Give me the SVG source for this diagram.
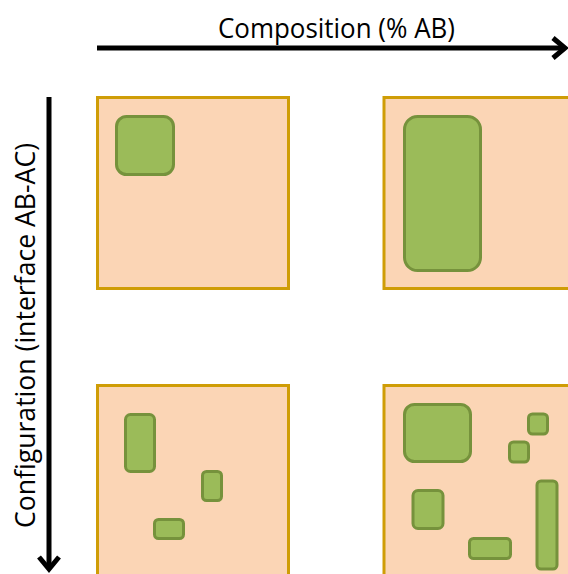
<svg xmlns="http://www.w3.org/2000/svg" width="568" height="574" viewBox="0 0 568 574">
<style>
.panel{fill:#FBD5B5;stroke:#CF9D06;stroke-width:3}
.grain{fill:#9BBB59;stroke:#76923C;stroke-width:3}
.axis{fill:none;stroke:#000;stroke-width:5}
.head{fill:none;stroke:#000;stroke-width:5;stroke-linejoin:miter;stroke-linecap:butt}
.lbl{font-family:"Open Sans","Liberation Sans",sans-serif;font-size:27px;fill:#000}
</style>
<rect width="568" height="574" fill="#fff"/>
<g id="panel-top-left">
<rect class="panel" x="97.5" y="97.5" width="191" height="191"/>
<rect class="grain" x="116.5" y="116.5" width="57" height="58" rx="10"/>
</g>
<g id="panel-top-right">
<rect class="panel" x="384" y="97.5" width="191" height="191"/>
<rect class="grain" x="404.5" y="116.5" width="76" height="154" rx="13"/>
</g>
<g id="panel-bottom-left">
<rect class="panel" x="97.5" y="385.5" width="191" height="191"/>
<rect class="grain" x="125.5" y="414.5" width="29" height="57" rx="5"/>
<rect class="grain" x="202.5" y="471.5" width="19" height="29" rx="4"/>
<rect class="grain" x="154.5" y="519.5" width="29" height="19" rx="4"/>
</g>
<g id="panel-bottom-right">
<rect class="panel" x="384" y="385.5" width="191" height="191"/>
<rect class="grain" x="404.5" y="404.5" width="66" height="57" rx="10"/>
<rect class="grain" x="528.5" y="414" width="19" height="20" rx="4"/>
<rect class="grain" x="509.5" y="442" width="19" height="20" rx="4"/>
<rect class="grain" x="413" y="490.5" width="30" height="38" rx="5"/>
<rect class="grain" x="469.5" y="538.5" width="41" height="20" rx="4"/>
<rect class="grain" x="537" y="481" width="20" height="88" rx="4"/>
</g>
<g id="connectors">
<line class="axis" x1="97" y1="48" x2="563" y2="48"/>
<polyline class="head" points="553,38 565,48 553,58"/>
<line class="axis" x1="49" y1="97" x2="49" y2="569"/>
<polyline class="head" points="39,557 49,569 59,557"/>
</g>
<g id="labels">
<text class="lbl" x="336.5" y="38" text-anchor="middle" textLength="237" lengthAdjust="spacingAndGlyphs">Composition (% AB)</text>
<text class="lbl" transform="translate(35,335.5) rotate(-90)" text-anchor="middle" textLength="385" lengthAdjust="spacingAndGlyphs">Configuration (interface AB-AC)</text>
</g>
</svg>
